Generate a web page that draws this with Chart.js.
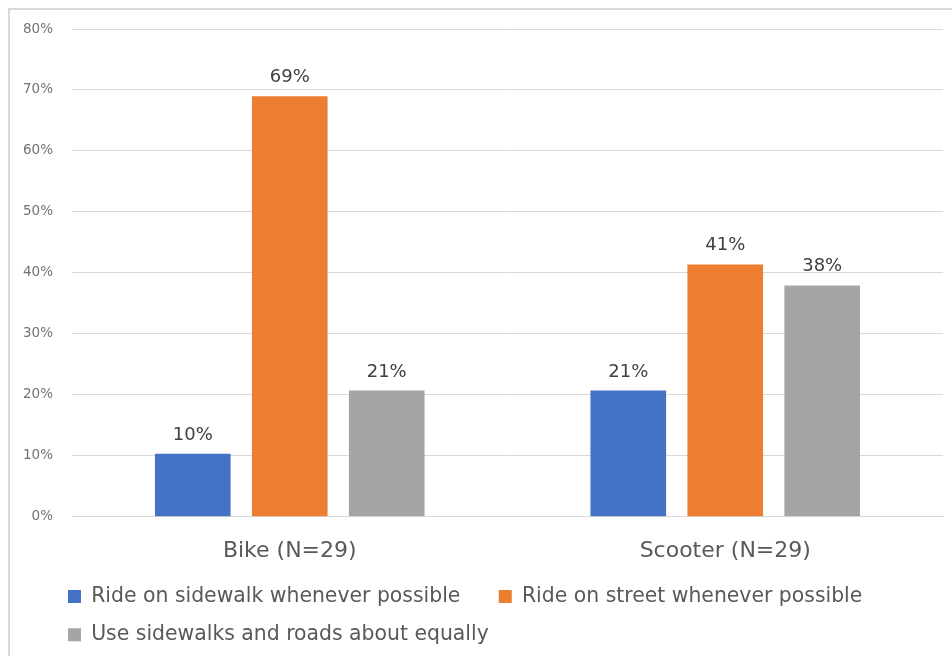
<!DOCTYPE html>
<html>
<head>
<meta charset="utf-8">
<script src="https://cdn.jsdelivr.net/npm/chart.js@4"></script>
<style>
  html, body { margin: 0; padding: 0; background: #fff; overflow: hidden; }
  .frame { position: absolute; left: 8px; top: 8px; width: 1000px; height: 700px; border: 2px solid #d9d9d9; }
  .wrap { position: absolute; left: 0; top: 0; width: 952px; height: 656px; }
</style>
</head>
<body>
<div class="frame"></div>
<div class="wrap"><canvas id="chart" width="952" height="656"></canvas></div>
<script>
const categories = ["Bike (N=29)", "Scooter (N=29)"];
const seriesNames = [
  "Ride on sidewalk whenever possible",
  "Ride on street whenever possible",
  "Use sidewalks and roads about equally"
];
const sidewalkValues = [10.34, 20.69];
const streetValues = [68.97, 41.38];
const equalValues = [20.69, 37.93];
const yTicks = [0, 10, 20, 30, 40, 50, 60, 70, 80];

const colors = ["#4472C4", "#ED7D31", "#A5A5A5"];
const textFont = "'DejaVu Sans', sans-serif";

// value labels above each bar
const barLabels = {
  id: "barLabels",
  afterDatasetsDraw(chart) {
    const ctx = chart.ctx;
    ctx.save();
    ctx.font = "18px " + textFont;
    ctx.fillStyle = "#404040";
    ctx.textAlign = "center";
    ctx.textBaseline = "alphabetic";
    chart.data.datasets.forEach((ds, i) => {
      chart.getDatasetMeta(i).data.forEach((bar, j) => {
        ctx.fillText(Math.round(ds.data[j]) + "%", bar.x, bar.y - 14);
      });
    });
    ctx.restore();
  }
};

// legend starts under the plot like in the original, not at the canvas edge
const legendShift = {
  id: "legendShift",
  afterLayout(chart) {
    chart.legend.left = 50;
  }
};

new Chart(document.getElementById("chart"), {
  type: "bar",
  data: {
    labels: categories,
    datasets: [
      { label: seriesNames[0], data: sidewalkValues, backgroundColor: colors[0] },
      { label: seriesNames[1], data: streetValues, backgroundColor: colors[1] },
      { label: seriesNames[2], data: equalValues, backgroundColor: colors[2] }
    ]
  },
  options: {
    responsive: false,
    animation: false,
    categoryPercentage: 0.668,
    barPercentage: 0.78,
    layout: { padding: { left: 10, right: 9, top: 29, bottom: 1 } },
    plugins: {
      tooltip: { enabled: false },
      legend: {
        position: "bottom",
        align: "start",
        labels: {
          boxWidth: 13,
          boxHeight: 13,
          padding: 18,
          color: "#595959",
          font: { size: 20.4, family: textFont },
          generateLabels(chart) {
            const items = Chart.defaults.plugins.legend.labels.generateLabels(chart);
            items.forEach(it => { it.text = it.text + "\u2003"; });
            return items;
          }
        }
      }
    },
    scales: {
      x: {
        grid: { display: false, drawTicks: false },
        border: { color: "#d9d9d9", width: 1 },
        ticks: { color: "#595959", padding: 21, font: { size: 22, family: textFont } },
        afterFit(scale) { scale.height = 51.5; }
      },
      y: {
        min: 0,
        max: 80,
        afterBuildTicks(scale) { scale.ticks = yTicks.map(v => ({ value: v })); },
        grid: { color: "#d9d9d9", drawTicks: false },
        border: { display: false },
        ticks: {
          color: "#737373",
          padding: 19,
          font: { size: 13.5, family: textFont },
          callback: v => v + "%"
        },
        afterFit(scale) { scale.width = 62; }
      }
    }
  },
  plugins: [barLabels, legendShift]
});
</script>
</body>
</html>
